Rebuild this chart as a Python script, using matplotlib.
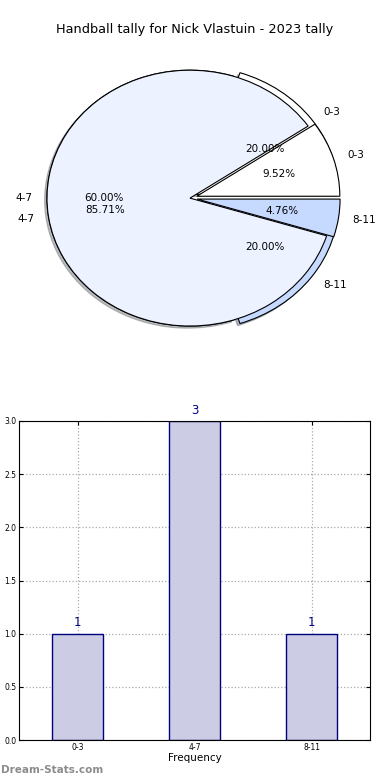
import matplotlib.pyplot as plt
import numpy as np

# tally per bucket
categories = ["0-3", "4-7", "8-11"]
player_counts = [1, 3, 1]
league_counts = [2, 18, 1]

pie_colors = ["#FFFFFF", "#ECF2FF", "#C6D9FF"]
title = "Handball tally for Nick Vlastuin - 2023 tally"

fig = plt.figure(figsize=(3.9, 7.8), dpi=100)
fig.text(0.5, 1 - 30 / 780, title, ha="center", va="center", fontsize=9.3)

# pie part
ax1 = fig.add_axes([0.0288, 0.541, 0.9167, 0.410])
ax1.pie(player_counts, labels=categories, colors=pie_colors,
        explode=(0.05, 0, 0.05), autopct="%.2f%%",
        shadow={"ox": -0.012, "oy": -0.012, "shade": 0.5},
        wedgeprops={"edgecolor": "black", "linewidth": 0.8},
        textprops={"fontsize": 7.5})
ax1.pie(league_counts, labels=categories, colors=pie_colors,
        explode=(0.05, 0, 0.05), autopct="%.2f%%",
        wedgeprops={"edgecolor": "black", "linewidth": 0.8},
        textprops={"fontsize": 7.5})
ax1.set_aspect("auto")
ax1.set_xlim(-1.25, 1.25)
ax1.set_ylim(-1.25, 1.25)

# bar part
ax2 = fig.add_axes([19 / 390, 1 - 740 / 780, 351 / 390, 319 / 780])
x = np.arange(len(categories))
bars = ax2.bar(x, player_counts, width=0.44, color="#CCCCE4",
               edgecolor="#000080", linewidth=1, zorder=2)
for b, v in zip(bars, player_counts):
    ax2.text(b.get_x() + b.get_width() / 2, v + 0.04, str(v),
             ha="center", va="bottom", color="#000080", fontsize=8.5)
ax2.set_xlim(-0.5, 2.5)
ax2.set_ylim(0, 3)
ax2.set_yticks(np.arange(0, 3.01, 0.5))
ax2.set_xticks(x)
ax2.set_xticklabels(categories)
ax2.tick_params(direction="in", top=True, right=True, labelsize=5.5,
                length=3, pad=2)
ax2.grid(True, linestyle=":", color="#aaaaaa", linewidth=0.9, zorder=0)
ax2.set_axisbelow(True)
ax2.set_xlabel("Frequency", fontsize=7.5, labelpad=1)

fig.text(0.003, 1 - 770 / 780, "Dream-Stats.com", ha="left", va="center",
         fontsize=7.5, color="#8c8c8c", fontweight="bold")

fig.savefig("out.png", dpi=100)
